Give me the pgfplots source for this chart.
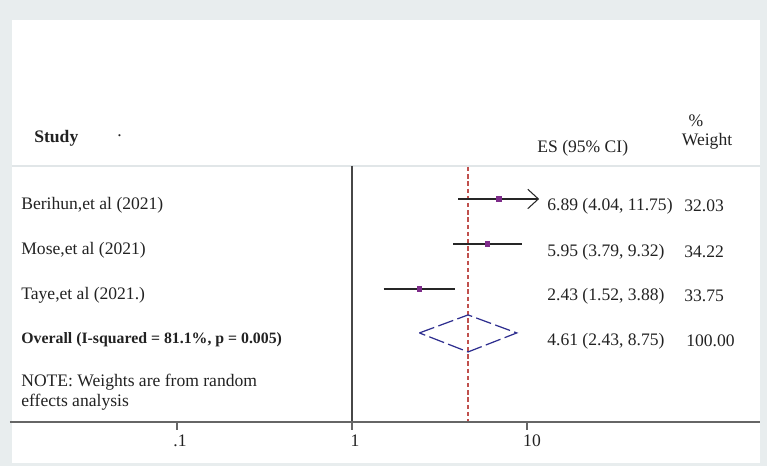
\documentclass[border=0pt]{standalone}
\usepackage{fontspec}
\setmainfont{Liberation Serif}
\usepackage{pgfplots}
\pgfplotsset{compat=1.18}
\usetikzlibrary{arrows.meta}
\definecolor{framegray}{HTML}{E8EDEE}
\definecolor{sepgray}{HTML}{E1E6E8}
\definecolor{axgray}{HTML}{666666}
\definecolor{ptpurple}{HTML}{7E2C8A}
\definecolor{dnavy}{HTML}{2E2E8F}
\definecolor{refred}{HTML}{C0504D}
\definecolor{txt}{HTML}{222222}

\begin{document}
\begin{tikzpicture}
% frame and text, in picture pixels (767 x 466, y down)
\begin{scope}[x=0.02cm, y=-0.02cm, yshift=9.32cm]
  \fill[framegray] (0,0) rectangle (767,20);
  \fill[framegray] (0,0) rectangle (12,466);
  \fill[framegray] (760,0) rectangle (767,466);
  \fill[framegray] (0,463) rectangle (767,466);
  \draw[sepgray, line width=1.2pt] (12,166) -- (760,166);
\end{scope}

\begin{axis}[
  at={(0,0)}, anchor=south west,
  scale only axis, width=15.34cm, height=9.32cm,
  xmode=log, xmin=0.009740, xmax=235.2,
  ymin=0, ymax=466, y dir=reverse,
  hide axis, clip=false,
]
% line of no effect and pooled estimate
\addplot[axgray!70!black, line width=1.1pt] coordinates {(1,166) (1,422)};
\addplot[refred, dash pattern=on 2.5pt off 1.6pt, line width=0.7pt] coordinates {(4.61,167) (4.61,421)};
% confidence intervals
\addplot[black!85, line width=0.8pt, -{Straight Barb[length=6pt,width=11pt,line width=0.6pt]}]
  coordinates {(4.04,199) (11.75,199)};
\addplot[black!85, line width=0.8pt] coordinates {(3.79,244) (9.32,244)};
\addplot[black!85, line width=0.8pt] coordinates {(1.52,289) (3.88,289)};
% point estimates
\addplot[only marks, mark=square*, mark size=1.3pt, ptpurple] coordinates {(6.89,199) (5.95,244) (2.43,289)};
% overall diamond
\addplot[dnavy, dash pattern=on 9pt off 2.5pt, line width=0.7pt]
  coordinates {(2.43,333) (4.61,315) (8.75,333) (4.61,352) (2.43,333)};
% x axis
\addplot[axgray, line width=1.4pt] coordinates {(0.01111,422) (214.5,422)};
\addplot[axgray, line width=0.8pt] coordinates {(0.1,422) (0.1,430)};
\addplot[axgray, line width=0.8pt] coordinates {(1,422) (1,430)};
\addplot[axgray, line width=0.8pt] coordinates {(10,422) (10,430)};
\end{axis}

\begin{scope}[x=0.02cm, y=-0.02cm, yshift=9.32cm,
  t/.style={anchor=west, inner sep=0pt, text=txt, font=\fontsize{10}{12}\selectfont}]
  \node[t, font=\fontsize{10}{12}\selectfont\bfseries] at (34,138) {Study};
  \node[t] at (117,136) {.};
  \node[t] at (537,148) {ES (95\% CI)};
  \node[t, anchor=center] at (696,121) {\%};
  \node[t, anchor=center] at (707,141) {Weight};

  \node[t] at (21,205) {Berihun,et al (2021)};
  \node[t] at (21,250) {Mose,et al (2021)};
  \node[t] at (21,295) {Taye,et al (2021.)};
  \node[t, font=\fontsize{9}{11}\selectfont\bfseries] at (21,340) {Overall (I-squared = 81.1\%, p = 0.005)};
  \node[t] at (21,382) {NOTE: Weights are from random};
  \node[t] at (21,402) {effects analysis};

  \node[t] at (547,206) {6.89 (4.04, 11.75)};
  \node[t] at (547,252) {5.95 (3.79, 9.32)};
  \node[t] at (547,296) {2.43 (1.52, 3.88)};
  \node[t] at (547,341) {4.61 (2.43, 8.75)};
  \node[t] at (684,206) {32.03};
  \node[t] at (684,252) {34.22};
  \node[t] at (684,296) {33.75};
  \node[t] at (686,341) {100.00};

  \node[t, anchor=center] at (180,441) {.1};
  \node[t, anchor=center] at (355,441) {1};
  \node[t, anchor=center] at (532,441) {10};
\end{scope}
\end{tikzpicture}
\end{document}
